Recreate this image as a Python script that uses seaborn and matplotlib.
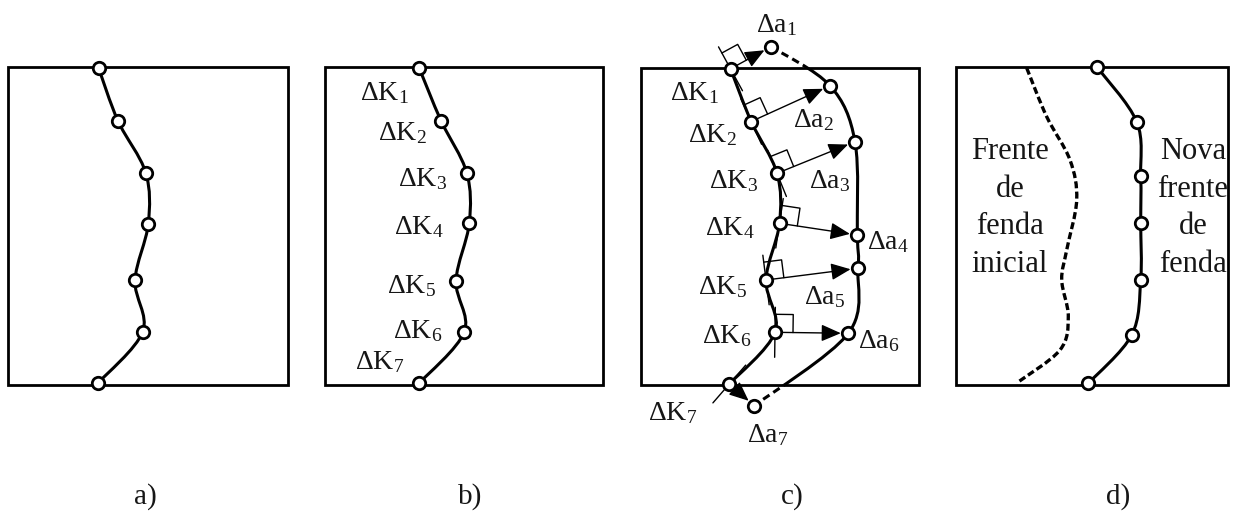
import numpy as np
import pandas as pd
import matplotlib
matplotlib.use("Agg")
import matplotlib.pyplot as plt
import seaborn as sns
from matplotlib.path import Path
from matplotlib.patches import PathPatch, Rectangle, FancyArrowPatch

# ---------------- data (diagram coordinates, pixels, y pointing down) ----------------
box_a = (8, 67, 288, 385)
box_b = (325, 67, 603, 385)
box_c = (641, 68, 919, 385)
box_d = (956, 67, 1228, 385)

front_a_x = [98.7, 118, 145.7, 148.3, 135, 142.7, 97.7]
front_a_y = [68.3, 121, 172.7, 223.7, 280.3, 331.7, 383.3]

front_b_x = [419.3, 441, 466.7, 469.3, 456, 464.3, 419]
front_b_y = [68.3, 120.7, 172.7, 223, 280.7, 331.7, 383.3]

old_c_x = [730.5, 751.2, 777, 779.5, 766, 775, 729.3]
old_c_y = [68.8, 121.5, 173.3, 223.3, 280, 332.3, 384]
new_c_x = [771, 830, 855, 857.3, 858, 848.3, 754.3]
new_c_y = [46.7, 85.7, 141.7, 235, 268.3, 333.3, 405.7]

new_d_x = [1096.7, 1136.7, 1140.7, 1140.7, 1140.7, 1131.7, 1088.3]
new_d_y = [66.7, 121.7, 176, 223.3, 280, 335, 383.3]
old_d_x = [1026.7, 1046.7, 1070, 1076.7, 1066.7, 1061.7, 1068.3, 1060, 1016.7]
old_d_y = [68, 116.7, 160, 200, 250, 280, 316.7, 350, 383]

dk_labels = ["ΔK$_1$", "ΔK$_2$", "ΔK$_3$", "ΔK$_4$", "ΔK$_5$", "ΔK$_6$", "ΔK$_7$"]
da_labels = ["Δa$_1$", "Δa$_2$", "Δa$_3$", "Δa$_4$", "Δa$_5$", "Δa$_6$", "Δa$_7$"]
dk_b_x = [384, 402, 423, 419, 411, 418, 380]
dk_b_y = [93, 133, 179, 227, 286, 331, 362]
dk_c_x = [694, 712, 734, 730, 722, 727, 673]
dk_c_y = [93, 135, 181, 228, 287, 336, 413]
da_c_x = [777, 814, 830, 888, 825, 879, 768]
da_c_y = [25, 120, 181, 242, 297, 341, 435]

panel_letters = ["a)", "b)", "c)", "d)"]
panel_letter_x = [145, 470, 792, 1118]
panel_letter_y = 497

text_old = "Frente\nde\nfenda\ninicial"
text_new = "Nova\nfrente\nde\nfenda"
text_old_pos = (1010, 208)
text_new_pos = (1193, 208)

# ---------------- style ----------------
sns.set_theme(style="white")
plt.rcParams['font.family'] = ['Liberation Serif', 'DejaVu Serif']
plt.rcParams['mathtext.fontset'] = 'custom'
plt.rcParams['mathtext.rm'] = 'Liberation Serif'
plt.rcParams['mathtext.it'] = 'Liberation Serif:italic'
plt.rcParams['mathtext.default'] = 'regular'

W, H = 1236, 513
fig = plt.figure(figsize=(W / 100, H / 100), dpi=100)
fig.patch.set_facecolor("white")
ax = fig.add_axes([0, 0, 1, 1])

LW = 2.0          # thick lines (pt)
CURVE_LW = 2.2
THIN = 1.0        # thin lines (pt)
MS = 80           # marker area
MEW = 2.0
TXT = "#161616"
LBL = 20


def smooth_path(xs, ys):
    P = np.column_stack([xs, ys]).astype(float)
    n = len(P)
    verts = [P[0]]
    codes = [Path.MOVETO]
    for i in range(n - 1):
        p0 = P[max(i - 1, 0)]
        p1 = P[i]
        p2 = P[i + 1]
        p3 = P[min(i + 2, n - 1)]
        c1 = p1 + (p2 - p0) / 6.0
        c2 = p2 - (p3 - p1) / 6.0
        verts += [c1, c2, p2]
        codes += [Path.CURVE4] * 3
    return Path(verts, codes)


def draw_box(b):
    x0, y0, x1, y1 = b
    ax.add_patch(Rectangle((x0, y0), x1 - x0, y1 - y0, fill=False,
                           edgecolor="black", lw=LW, zorder=2))


def draw_curve(xs, ys, clip=None, lw=CURVE_LW, dashes=None):
    pp = PathPatch(smooth_path(xs, ys), fill=False, edgecolor="black",
                   lw=lw, zorder=3, capstyle="butt")
    if dashes is not None:
        pp.set_linestyle((0, dashes))
    ax.add_patch(pp)
    if clip is not None:
        x0, y0, x1, y1 = clip
        r = Rectangle((x0, y0), x1 - x0, y1 - y0, transform=ax.transData)
        pp.set_clip_path(r)
    return pp


def draw_points(xs, ys):
    df = pd.DataFrame({"x": xs, "y": ys})
    sns.scatterplot(data=df, x="x", y="y", ax=ax, s=MS, marker="o",
                    facecolor="white", edgecolor="black", linewidth=MEW,
                    zorder=6, legend=False)


for b in (box_a, box_b, box_c, box_d):
    draw_box(b)

# panel a
draw_curve(front_a_x, front_a_y)
draw_points(front_a_x, front_a_y)

# panel b
draw_curve(front_b_x, front_b_y)
draw_points(front_b_x, front_b_y)
for lab, x, y in zip(dk_labels, dk_b_x, dk_b_y):
    ax.text(x, y, lab, ha="center", va="center", fontsize=LBL, color=TXT)

# panel c
draw_curve(old_c_x, old_c_y)
x0, y0, x1, y1 = box_c
draw_curve(new_c_x, new_c_y, clip=(x0 - 5, y0, x1 + 5, y1))
draw_curve(new_c_x, new_c_y, clip=(x0 - 5, 0, x1 + 5, y0), dashes=(2.5, 1.5))
draw_curve(new_c_x, new_c_y, clip=(x0 - 5, y1, x1 + 5, H), dashes=(2.5, 1.5))

SQ = 18
TL = 25
for i in range(len(old_c_x)):
    p = np.array([old_c_x[i], old_c_y[i]])
    q = np.array([new_c_x[i], new_c_y[i]])
    n = (q - p) / np.linalg.norm(q - p)
    u = np.array([n[1], -n[0]])
    if u[1] > 0:
        u = -u
    # tangent line
    a = p + TL * u
    c = p - TL * u
    ax.plot([a[0], c[0]], [a[1], c[1]], color="black", lw=THIN, zorder=3)
    # right-angle mark
    if i < len(old_c_x) - 1:
        s1 = p + SQ * u
        s2 = p + SQ * u + SQ * n
        s3 = p + SQ * n
        ax.plot([s1[0], s2[0], s3[0]], [s1[1], s2[1], s3[1]],
                color="black", lw=THIN, zorder=3)
    # arrow
    arr = FancyArrowPatch(posA=tuple(p), posB=tuple(q),
                          arrowstyle="-|>,head_length=1.2,head_width=0.52",
                          mutation_scale=10, shrinkA=0, shrinkB=5.4,
                          color="black", lw=THIN, zorder=4)
    ax.add_patch(arr)

draw_points(old_c_x, old_c_y)
draw_points(new_c_x, new_c_y)
for lab, x, y in zip(dk_labels, dk_c_x, dk_c_y):
    ax.text(x, y, lab, ha="center", va="center", fontsize=LBL, color=TXT)
for lab, x, y in zip(da_labels, da_c_x, da_c_y):
    ax.text(x, y, lab, ha="center", va="center", fontsize=LBL, color=TXT)

# panel d
draw_curve(old_d_x, old_d_y, lw=2.4, dashes=(2.1, 1.0))
draw_curve(new_d_x, new_d_y)
draw_points(new_d_x, new_d_y)
ax.text(*text_old_pos, text_old, ha="center", va="center", fontsize=22,
        linespacing=1.38, color=TXT)
ax.text(*text_new_pos, text_new, ha="center", va="center", fontsize=22,
        linespacing=1.38, color=TXT)

# panel letters
for lab, x in zip(panel_letters, panel_letter_x):
    ax.text(x, panel_letter_y, lab, ha="center", va="center", fontsize=21,
            color=TXT)

ax.set_xlim(0, W)
ax.set_ylim(H, 0)
ax.set_axis_off()

fig.savefig("out.png", dpi=100, facecolor="white")
